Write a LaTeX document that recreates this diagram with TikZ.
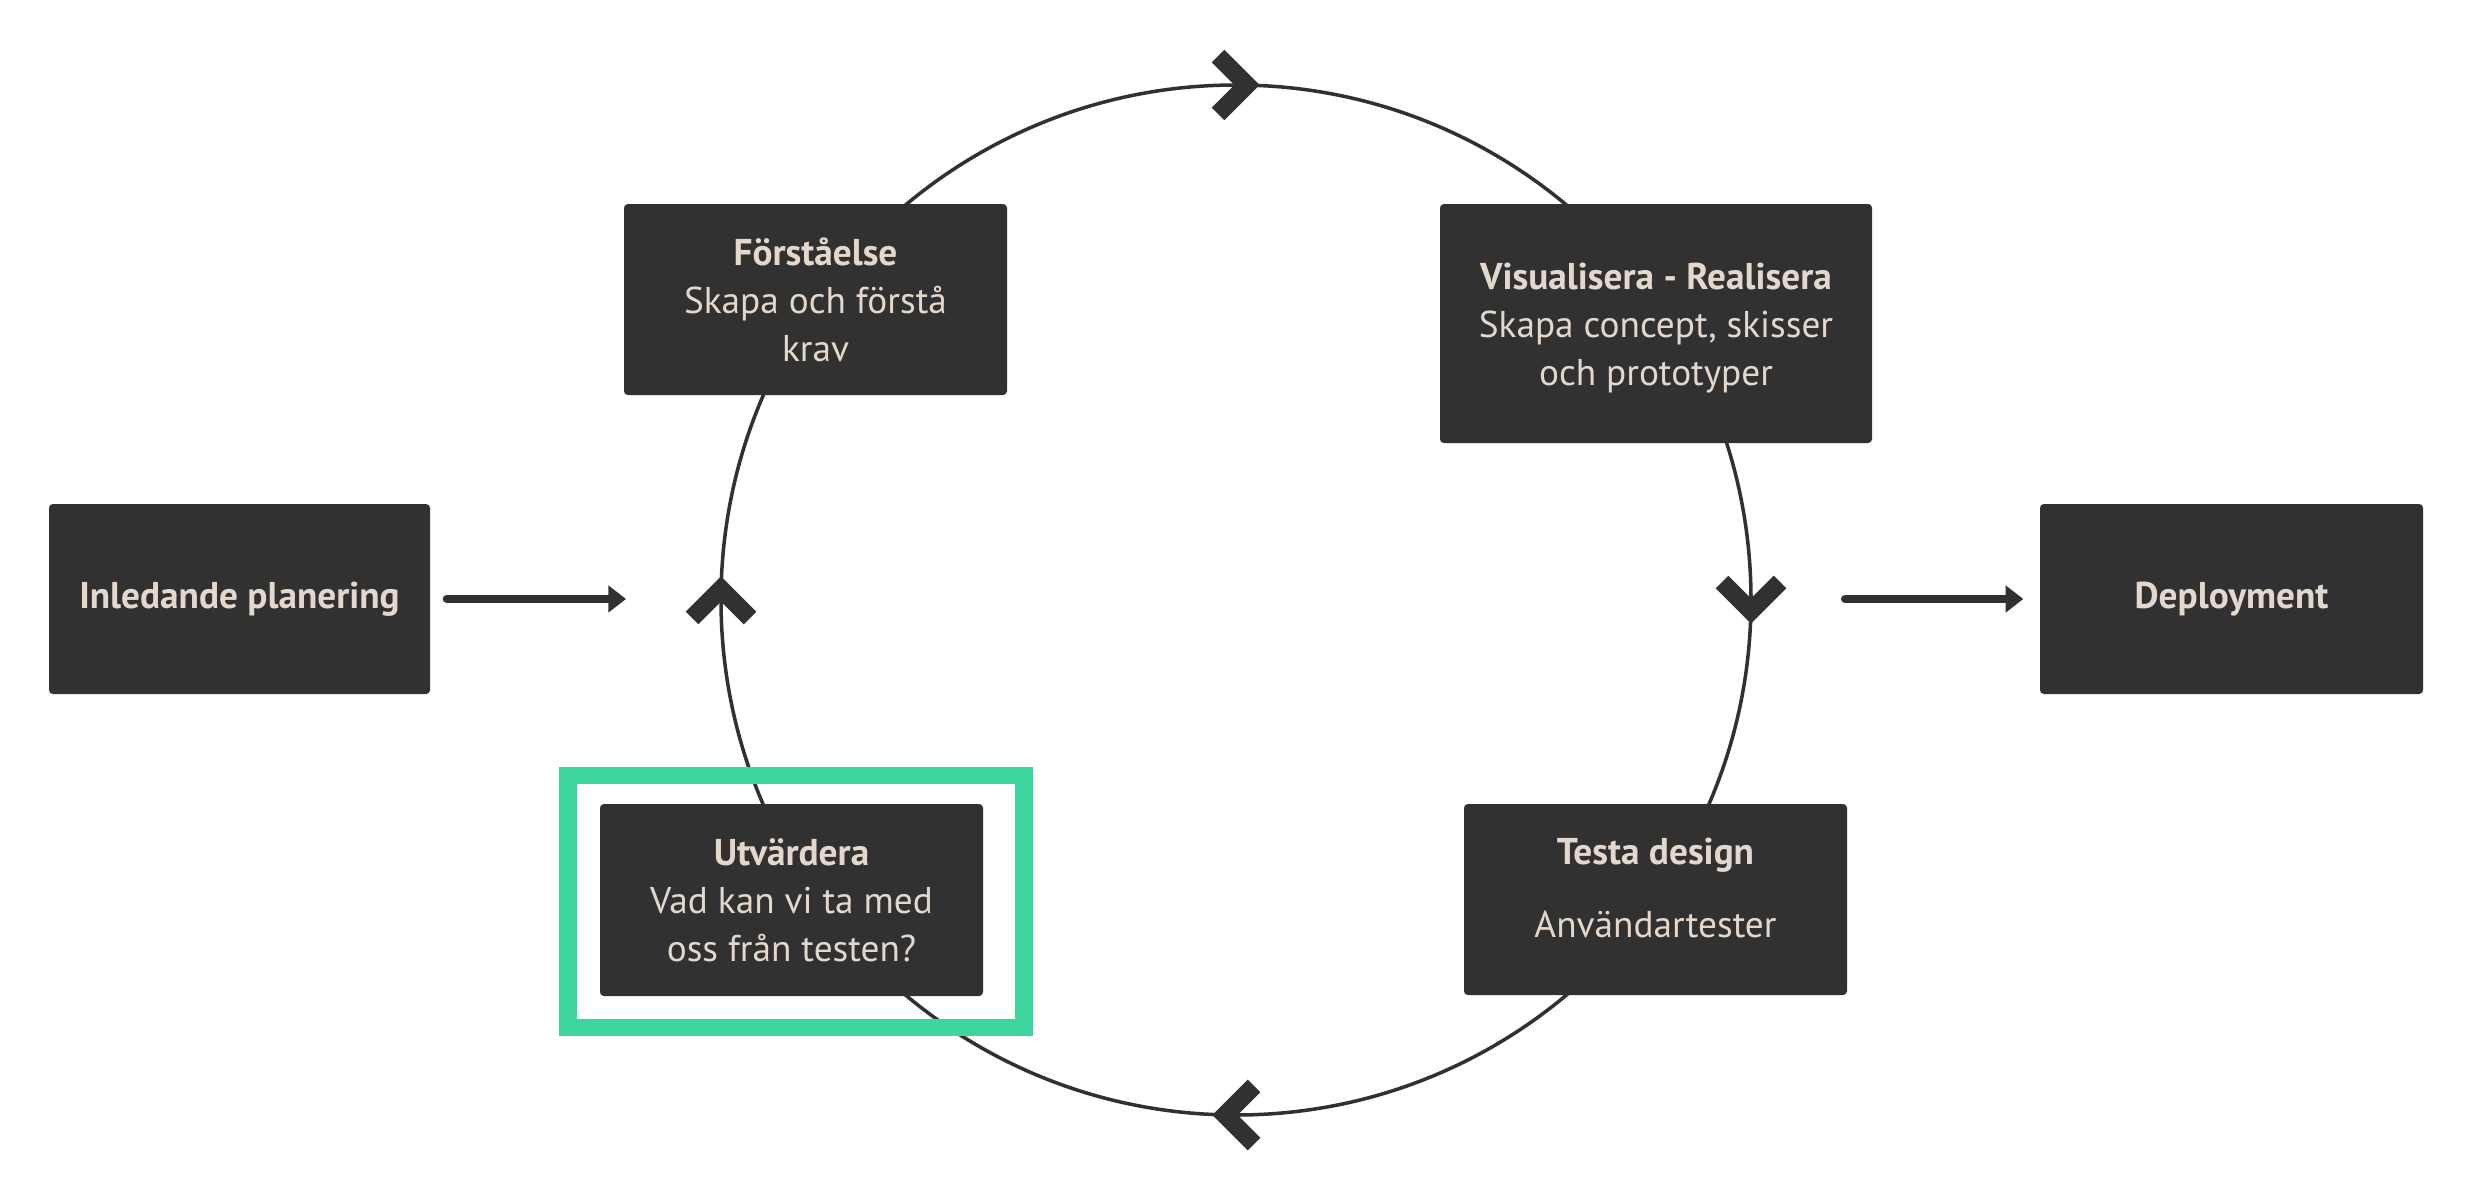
\documentclass[tikz,border=0pt]{standalone}
\usepackage{fontspec}
\setmainfont{PT Sans}
\usetikzlibrary{arrows.meta}
\definecolor{boxc}{HTML}{313131}
\definecolor{txtc}{HTML}{E4D8CC}
\definecolor{grn}{HTML}{3ED69F}
\begin{document}
\begin{tikzpicture}[x=0.01cm,y=-0.01cm,
  phase/.style={rectangle, fill=boxc, rounded corners=1.1pt, text=txtc, align=center,
    inner sep=0pt, font=\fontsize{10.6pt}{13.66pt}\selectfont},
  phasetxt/.style={text=txtc, align=center, inner sep=0pt, font=\fontsize{10.6pt}{13.66pt}\selectfont},
  ring/.style={draw=boxc, line width=1pt},
  chev/.style={draw=boxc, line width=5.1pt, miter limit=10, line join=miter, line cap=butt},
  flow/.style={draw=boxc, line width=2.3pt, line cap=round, -{Triangle[length=5pt,width=7.4pt]}},
  hilite/.style={draw=grn, line width=5.1pt}]
\useasboundingbox (0,0) rectangle (2472,1200);
\coordinate (c) at (1236,600);
\draw[ring] (c) circle[radius=0.01cm*515];
% chevrons on the ring
\draw[chev] (1218,56) -- (1247,85) -- (1218,114);
\draw[chev] (1722,582) -- (1751,611) -- (1780,582);
\draw[chev] (1254,1086) -- (1225,1115) -- (1254,1144);
\draw[chev] (692,618) -- (721,589) -- (750,618);
% highlight frame
\draw[hilite] (568,775.5) rectangle (1024,1027.5);
% boxes
\node[phase, minimum width=0.01cm*381, minimum height=0.01cm*190] (inl) at (239.5,599) {\textbf{Inledande planering}};
\node[phase, minimum width=0.01cm*383, minimum height=0.01cm*191] (for) at (815.5,299.5) {\textbf{Förståelse}\\Skapa och förstå~\\krav};
\node[phase, minimum width=0.01cm*432, minimum height=0.01cm*239,
  label={[phasetxt, yshift=-0.05cm]center:{\textbf{Visualisera - Realisera}\\Skapa concept, skisser\\och prototyper}}] (vis) at (1656,323.5) {};
\node[phase, minimum width=0.01cm*383, minimum height=0.01cm*191,
  label={[phasetxt, yshift=0.12cm]center:{\textbf{Testa design}\\[0.25cm]Användartester}}] (tes) at (1655.5,899.5) {};
\node[phase, minimum width=0.01cm*383, minimum height=0.01cm*192] (utv) at (791.5,900) {\textbf{Utvärdera}\\Vad kan vi ta med~\\oss från testen?};
\node[phase, minimum width=0.01cm*383, minimum height=0.01cm*190] (dep) at (2231.5,599) {\textbf{Deployment}};
% flow arrows
\coordinate (a1) at (626,599);
\coordinate (a2) at (1845,599);
\draw[flow, shorten <=0.16cm] (inl.east) -- (a1);
\draw[flow, shorten >=0.16cm] (a2) -- (dep.west);
\end{tikzpicture}
\end{document}
